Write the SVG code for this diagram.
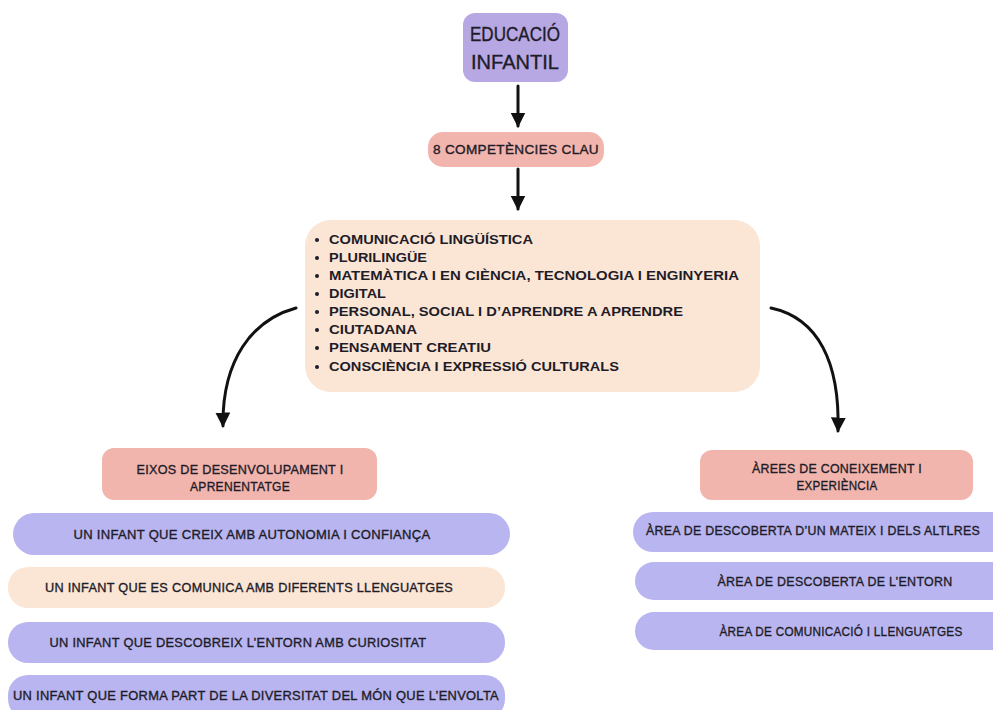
<svg xmlns="http://www.w3.org/2000/svg" width="993" height="710" viewBox="0 0 993 710">
<defs>
<style>
.t{font-family:"Liberation Sans",Arial,sans-serif;fill:#1e1c28;text-anchor:middle;stroke:#1e1c28;stroke-width:0.35px}
.h{font-size:13px;letter-spacing:0.3px}
.b{font-family:"Liberation Sans",Arial,sans-serif;fill:#1e1c28;font-size:13.5px;font-weight:bold}
.purple{fill:#b7a8e4}
.blue{fill:#b8b5f0}
.pink{fill:#f2b5ae}
.peach{fill:#fbe5d5}
.c{fill:none;stroke:#111;stroke-width:3;stroke-linecap:round}
</style>
<marker id="arr" viewBox="0 0 10 10" refX="9" refY="5" markerWidth="15" markerHeight="15" orient="auto" markerUnits="userSpaceOnUse">
<path d="M0,0 L10,5 L0,10 Z" fill="#111"/>
</marker>
</defs>
<rect width="993" height="710" fill="#ffffff"/>

<g id="connectors">
<path class="c" d="M518,86 L518,126" marker-end="url(#arr)"/>
<path class="c" d="M518,169 L518,209" marker-end="url(#arr)"/>
<path class="c" d="M296,308 C252,320 222,360 223,426" marker-end="url(#arr)"/>
<path class="c" d="M771,308 C818,318 840,362 838,431" marker-end="url(#arr)"/>
</g>

<g id="educacio-infantil">
<rect class="purple" x="463" y="13" width="105" height="69" rx="12"/>
<text class="t" x="515" y="41" font-size="20" textLength="90" lengthAdjust="spacingAndGlyphs">EDUCACIÓ</text>
<text class="t" x="515" y="69" font-size="20" textLength="88" lengthAdjust="spacingAndGlyphs">INFANTIL</text>
</g>

<g id="competencies">
<rect class="pink" x="428" y="132" width="176" height="35" rx="15"/>
<text class="t h" x="516" y="154" textLength="166" lengthAdjust="spacingAndGlyphs">8 COMPETÈNCIES CLAU</text>
</g>

<g id="llista-competencies">
<rect class="peach" x="305" y="220" width="455" height="172" rx="26"/>
<g fill="#1e1c28">
<circle cx="317" cy="240" r="2"/>
<circle cx="317" cy="258" r="2"/>
<circle cx="317" cy="276" r="2"/>
<circle cx="317" cy="294" r="2"/>
<circle cx="317" cy="312" r="2"/>
<circle cx="317" cy="330" r="2"/>
<circle cx="317" cy="348" r="2"/>
<circle cx="317" cy="367" r="2"/>
</g>
<text class="b" x="329" y="244" textLength="204" lengthAdjust="spacingAndGlyphs">COMUNICACIÓ LINGÜÍSTICA</text>
<text class="b" x="329" y="262" textLength="98" lengthAdjust="spacingAndGlyphs">PLURILINGÜE</text>
<text class="b" x="329" y="280" textLength="410" lengthAdjust="spacingAndGlyphs">MATEMÀTICA I EN CIÈNCIA, TECNOLOGIA I ENGINYERIA</text>
<text class="b" x="329" y="298" textLength="57" lengthAdjust="spacingAndGlyphs">DIGITAL</text>
<text class="b" x="329" y="316" textLength="354" lengthAdjust="spacingAndGlyphs">PERSONAL, SOCIAL I D’APRENDRE A APRENDRE</text>
<text class="b" x="329" y="334" textLength="88" lengthAdjust="spacingAndGlyphs">CIUTADANA</text>
<text class="b" x="329" y="352" textLength="162" lengthAdjust="spacingAndGlyphs">PENSAMENT CREATIU</text>
<text class="b" x="329" y="371" textLength="290" lengthAdjust="spacingAndGlyphs">CONSCIÈNCIA I EXPRESSIÓ CULTURALS</text>
</g>

<g id="eixos">
<rect class="pink" x="102" y="448" width="275" height="52" rx="12"/>
<text class="t h" x="240" y="474" textLength="207" lengthAdjust="spacingAndGlyphs">EIXOS DE DESENVOLUPAMENT I</text>
<text class="t h" x="240" y="491" textLength="100" lengthAdjust="spacingAndGlyphs">APRENENTATGE</text>
</g>

<g id="eix-1">
<rect class="blue" x="13" y="513" width="497" height="42" rx="21"/>
<text class="t h" x="252" y="539" textLength="357" lengthAdjust="spacingAndGlyphs">UN INFANT QUE CREIX AMB AUTONOMIA I CONFIANÇA</text>
</g>
<g id="eix-2">
<rect class="peach" x="8" y="567" width="497" height="41" rx="20"/>
<text class="t h" x="249" y="592" textLength="408" lengthAdjust="spacingAndGlyphs">UN INFANT QUE ES COMUNICA AMB DIFERENTS LLENGUATGES</text>
</g>
<g id="eix-3">
<rect class="blue" x="8" y="622" width="497" height="41" rx="20"/>
<text class="t h" x="238" y="647" textLength="377" lengthAdjust="spacingAndGlyphs">UN INFANT QUE DESCOBREIX L’ENTORN AMB CURIOSITAT</text>
</g>
<g id="eix-4">
<rect class="blue" x="8" y="675" width="497" height="44" rx="20"/>
<text class="t h" x="256" y="700" textLength="486" lengthAdjust="spacingAndGlyphs">UN INFANT QUE FORMA PART DE LA DIVERSITAT DEL MÓN QUE L’ENVOLTA</text>
</g>

<g id="arees">
<rect class="pink" x="700" y="450" width="273" height="50" rx="12"/>
<text class="t h" x="837" y="473" textLength="170" lengthAdjust="spacingAndGlyphs">ÀREES DE CONEIXEMENT I</text>
<text class="t h" x="837" y="490" textLength="81" lengthAdjust="spacingAndGlyphs">EXPERIÈNCIA</text>
</g>

<g id="area-1">
<rect class="blue" x="633" y="512" width="380" height="40" rx="20"/>
<text class="t h" x="813" y="535" textLength="334" lengthAdjust="spacingAndGlyphs">ÀREA DE DESCOBERTA D’UN MATEIX I DELS ALTLRES</text>
</g>
<g id="area-2">
<rect class="blue" x="635" y="562" width="378" height="38" rx="19"/>
<text class="t h" x="835" y="586" textLength="235" lengthAdjust="spacingAndGlyphs">ÀREA DE DESCOBERTA DE L’ENTORN</text>
</g>
<g id="area-3">
<rect class="blue" x="635" y="612" width="378" height="38" rx="19"/>
<text class="t h" x="841" y="636" textLength="243" lengthAdjust="spacingAndGlyphs">ÀREA DE COMUNICACIÓ I LLENGUATGES</text>
</g>
</svg>
